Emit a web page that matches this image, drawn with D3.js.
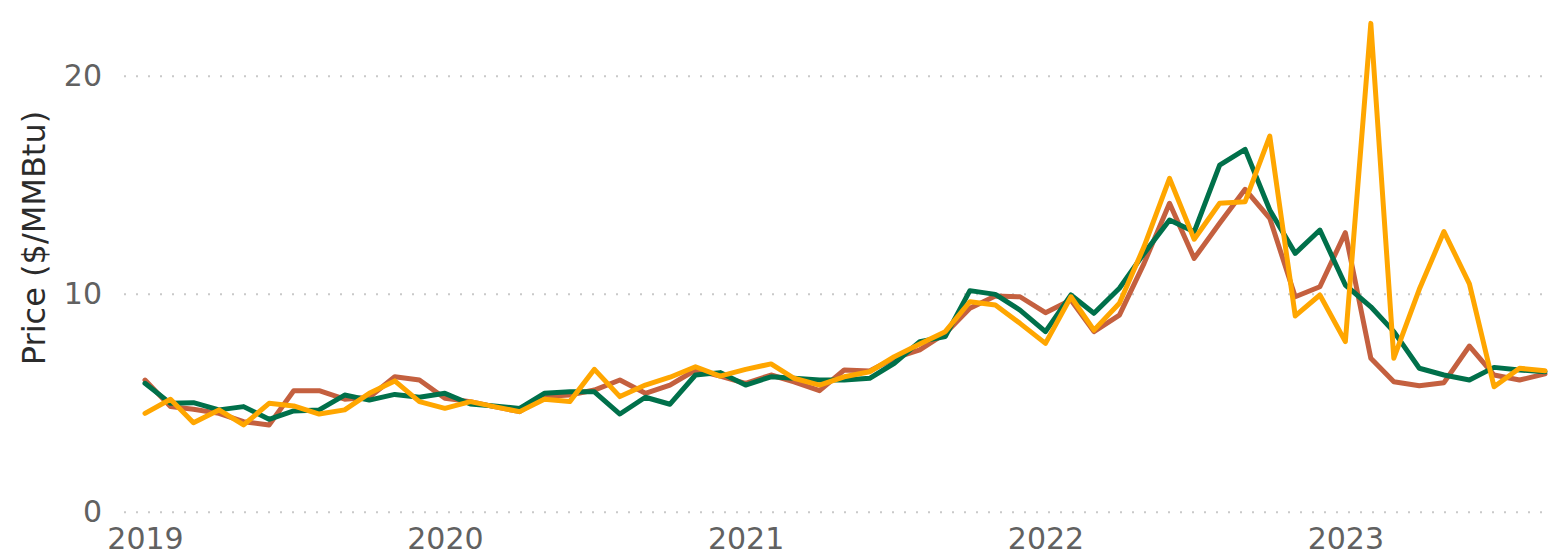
<!DOCTYPE html>
<html>
<head>
<meta charset="utf-8">
<script src="https://cdn.jsdelivr.net/npm/d3@7"></script>
<style>
  body { margin: 0; background: #fff; }
  svg { display: block; font-family: "DejaVu Sans", Verdana, sans-serif; }
</style>
</head>
<body>
<svg id="chart"></svg>
<script>
const width = 1550;
const height = 553;

// monthly, Jan 2019 .. Sep 2023
const startMonth = new Date(2019, 0, 1);
const monthCount = 57;

const rustValues = [
  6.04, 4.82, 4.70, 4.51, 4.13, 3.98, 5.55, 5.55, 5.16, 5.25, 6.19, 6.04,
  5.20, 5.05, 4.82, 4.59, 5.28, 5.35, 5.58, 6.04, 5.43, 5.81, 6.50, 6.22,
  5.89, 6.27, 5.96, 5.55, 6.50, 6.45, 7.04, 7.42, 8.18, 9.33, 9.89, 9.86,
  9.13, 9.71, 8.26, 9.02, 11.39, 14.15, 11.62, 13.23, 14.79, 13.46, 9.86, 10.32,
  12.80, 7.04, 5.96, 5.78, 5.92, 7.60, 6.27, 6.04, 6.32
];
const greenValues = [
  5.89, 4.97, 5.00, 4.67, 4.82, 4.24, 4.62, 4.67, 5.35, 5.12, 5.38, 5.25,
  5.43, 4.94, 4.85, 4.74, 5.43, 5.50, 5.50, 4.48, 5.25, 4.93, 6.27, 6.38,
  5.81, 6.19, 6.12, 6.04, 6.04, 6.12, 6.81, 7.80, 8.03, 10.14, 9.97, 9.25,
  8.26, 9.94, 9.10, 10.25, 11.85, 13.38, 12.84, 15.90, 16.62, 13.84, 11.85, 12.92,
  10.40, 9.40, 8.26, 6.58, 6.27, 6.04, 6.62, 6.50, 6.42
];
const orangeValues = [
  4.51, 5.16, 4.08, 4.67, 3.98, 4.97, 4.85, 4.48, 4.67, 5.43, 6.00, 5.05,
  4.74, 5.05, 4.82, 4.59, 5.16, 5.05, 6.53, 5.28, 5.81, 6.17, 6.65, 6.22,
  6.53, 6.78, 6.12, 5.81, 6.19, 6.42, 7.11, 7.69, 8.26, 9.63, 9.48, 8.64,
  7.72, 9.86, 8.33, 9.56, 12.16, 15.29, 12.50, 14.15, 14.22, 17.23, 8.98, 9.94,
  7.80, 22.40, 7.04, 10.20, 12.85, 10.45, 5.73, 6.58, 6.47
];

const yTicks = [0, 10, 20];
const xTickYears = [2019, 2020, 2021, 2022, 2023];

const months = d3.range(monthCount).map(i => d3.timeMonth.offset(startMonth, i));

const series = [
  { name: 'rust', color: '#c4603f', values: rustValues },
  { name: 'green', color: '#00704a', values: greenValues },
  { name: 'orange', color: '#ffa600', values: orangeValues }
];

const svg = d3.select('#chart')
  .attr('width', width)
  .attr('height', height);

const x = d3.scaleTime()
  .domain([months[0], months[monthCount - 1]])
  .range([145, 1545]);

const y = d3.scaleLinear()
  .domain([0, 20])
  .range([511.7, 75.7]);

// y grid + labels
const gridLeft = 124;
const yAxis = svg.append('g')
  .attr('transform', `translate(${gridLeft},0)`)
  .call(d3.axisLeft(y).tickValues(yTicks).tickSize(-(width - gridLeft)).tickPadding(22));
yAxis.select('.domain').remove();
yAxis.selectAll('.tick line')
  .attr('stroke', '#c9c9c9')
  .attr('stroke-width', 2)
  .attr('stroke-dasharray', '2,10');
yAxis.selectAll('.tick text')
  .attr('fill', '#616161')
  .style('font-size', '30px')
  .style('font-family', '"DejaVu Sans", Verdana, sans-serif');

// x axis labels
const xAxis = svg.append('g')
  .attr('transform', `translate(0,${y(0)})`)
  .call(d3.axisBottom(x)
    .tickValues(xTickYears.map(yr => new Date(yr, 0, 1)))
    .tickFormat(d3.timeFormat('%Y'))
    .tickSize(0)
    .tickPadding(16));
xAxis.select('.domain').remove();
xAxis.selectAll('.tick text')
  .attr('fill', '#616161')
  .style('font-size', '30px')
  .style('font-family', '"DejaVu Sans", Verdana, sans-serif');

// axis title
svg.append('text')
  .attr('transform', `translate(45,238) rotate(-90)`)
  .attr('text-anchor', 'middle')
  .attr('fill', '#2b2b2b')
  .style('font-size', '32px')
  .text('Price ($/MMBtu)');

const line = d3.line()
  .x((d, i) => x(months[i]))
  .y(d => y(d));

svg.append('g').selectAll('path')
  .data(series)
  .enter().append('path')
  .attr('fill', 'none')
  .attr('stroke', d => d.color)
  .attr('stroke-width', 5)
  .attr('stroke-linejoin', 'round')
  .attr('stroke-linecap', 'round')
  .attr('d', d => line(d.values));
</script>
</body>
</html>
